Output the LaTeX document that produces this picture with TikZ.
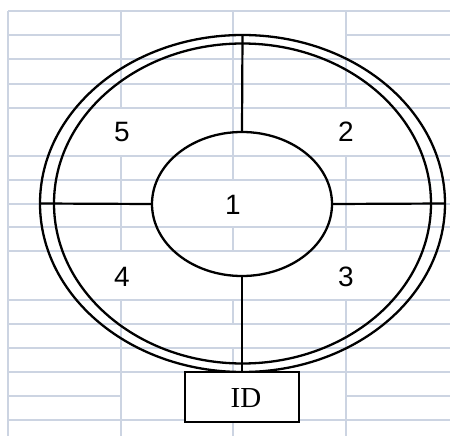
\documentclass[tikz,border=0pt]{standalone}
\usepackage{fontspec}
\setmainfont{Liberation Serif}
\newfontfamily\numfont{Liberation Sans}
\usetikzlibrary{shapes.geometric}
\definecolor{gridc}{HTML}{CCD4E2}
\begin{document}
\begin{tikzpicture}[x=1pt,y=-1pt,
  gridline/.style={draw=gridc,line width=1.6pt},
  ring/.style={ellipse,draw=black,line width=2.3pt,inner sep=0pt,outer sep=0pt},
  spoke/.style={draw=black,line width=2.2pt},
  num/.style={font=\numfont\fontsize{28}{28}\selectfont,inner sep=0pt},
  idbox/.style={draw=black,fill=white,line width=2.3pt,minimum width=114pt,minimum height=50pt,inner sep=0pt,outer sep=0pt}]
\useasboundingbox (0,0) rectangle (450,436);
% spreadsheet grid
\foreach \y in {11,59,84,108,156,180,227,251,300,324,348,372,420}
  \draw[gridline] (8,\y) -- (450,\y);
\draw[gridline] (8,35) -- (121,35) (346,35) -- (450,35);
\draw[gridline] (8,396) -- (121,396) (346,396) -- (450,396);
\draw[gridline] (8,204) -- (152,204) (332,204) -- (450,204);
\draw[gridline] (8,11) -- (8,436);
\draw[gridline] (121,11) -- (121,108) (121,156) -- (121,251) (121,300) -- (121,436);
\draw[gridline] (346,11) -- (346,108) (346,156) -- (346,251) (346,300) -- (346,436);
\draw[gridline] (233,11) -- (233,180) (233,227) -- (233,251) (233,300) -- (233,324) (233,348) -- (233,372) (233,422) -- (233,436);
% rings
\node[ring,minimum width=405pt,minimum height=337pt] (outer) at (242.5,203.5) {};
\node[ring,minimum width=377pt,minimum height=320pt] (middle) at (242.5,203.5) {};
\node[ring,minimum width=180pt,minimum height=144pt] (inner) at (242,204) {};
% ID box
\node[idbox] (idb) at (242,397) {};
\node[font=\fontsize{29}{29}\selectfont,inner sep=0pt] (idt) at (246,398) {ID};
% spokes
\draw[spoke] (outer.north) -- (inner.north);
\draw[spoke] (inner.south) -- (idb.north);
\draw[spoke] (outer.west) -- (inner.west);
\draw[spoke] (inner.east) -- (outer.east);
% labels
\node[num] (l1) at (233,205) {1};
\node[num] (l2) at (346,132) {2};
\node[num] (l3) at (346,277) {3};
\node[num] (l4) at (122,277) {4};
\node[num] (l5) at (122,132) {5};
\end{tikzpicture}
\end{document}
